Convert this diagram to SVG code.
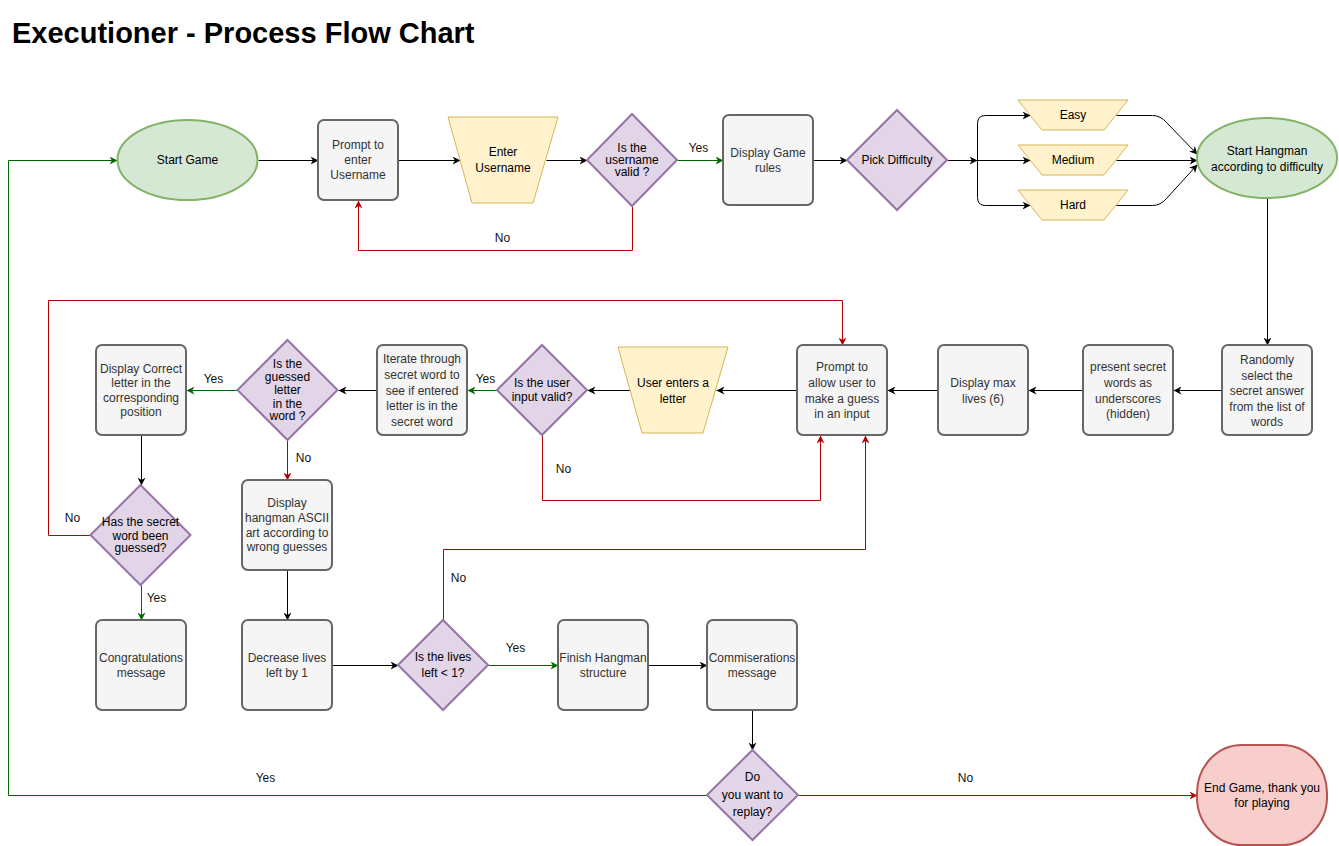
<svg xmlns="http://www.w3.org/2000/svg" width="1339" height="846" viewBox="0 0 1339 846">
<style>
.box{fill:#f5f5f5;stroke:#666666;stroke-width:2}
.dia{fill:#e1d5e7;stroke:#9673a6;stroke-width:2}
.io{fill:#fff2cc;stroke:#d6b656;stroke-width:1}
.term{fill:#d5e8d4;stroke:#82b366;stroke-width:2}
.end{fill:#f8cecc;stroke:#b85450;stroke-width:2}
text{font-family:"Liberation Sans",Arial,sans-serif;font-size:12px;text-anchor:middle;fill:#000}
.g3 text{fill:#333333}
.lbl{fill:#111}
.e{fill:none;stroke:#000;stroke-width:1}
.e.k{marker-end:url(#ak)}
.e.g{stroke:#006600;marker-end:url(#ag)}
.e.r{stroke:#b20000;marker-end:url(#ar)}
</style>
<defs>
<marker id="ak" viewBox="0 0 10 10" markerUnits="userSpaceOnUse" markerWidth="8" markerHeight="8" refX="10" refY="5" orient="auto"><path d="M0,0 L10,5 L0,10 L3,5 Z" fill="#000"/></marker>
<marker id="ag" viewBox="0 0 10 10" markerUnits="userSpaceOnUse" markerWidth="8" markerHeight="8" refX="10" refY="5" orient="auto"><path d="M0,0 L10,5 L0,10 L3,5 Z" fill="#006600"/></marker>
<marker id="ar" viewBox="0 0 10 10" markerUnits="userSpaceOnUse" markerWidth="8" markerHeight="8" refX="10" refY="5" orient="auto"><path d="M0,0 L10,5 L0,10 L3,5 Z" fill="#b20000"/></marker>
</defs>
<rect width="1339" height="846" fill="#ffffff"/>
<text x="12" y="43" style="font-size:29px;font-weight:bold;text-anchor:start">Executioner - Process Flow Chart</text>

<g id="connectors" transform="translate(0.5,0.5)">
<path class="e k" d="M258,160 L318,160"/>
<path class="e k" d="M398,160 L460,160"/>
<path class="e k" d="M546,160 L587,160"/>
<path class="e g" d="M677,160 L723,160"/>
<path class="e k" d="M813,160 L847,160"/>
<path class="e k" d="M947,160 L977,160"/>
<path class="e k" d="M977,160 L977,123 Q977,115 985,115 L1030,115"/>
<path class="e k" d="M977,160 L1030,160"/>
<path class="e k" d="M977,160 L977,197 Q977,205 985,205 L1030,205"/>
<path class="e k" d="M1116,115 L1152,115 Q1160,115 1166,122 L1197,154"/>
<path class="e k" d="M1116,160 L1197,160"/>
<path class="e k" d="M1116,205 L1152,205 Q1160,205 1166,198 L1197,164"/>
<path class="e k" d="M1267,198 L1267,345"/>
<path class="e k" d="M1222,390 L1173,390"/>
<path class="e k" d="M1083,390 L1028,390"/>
<path class="e k" d="M938,390 L887,390"/>
<path class="e k" d="M797,390 L716,390"/>
<path class="e k" d="M630,390 L587,390"/>
<path class="e g" d="M497,390 L467,390"/>
<path class="e k" d="M377,390 L338,390"/>
<path class="e g" d="M237,390 L186,390"/>
<path class="e r" d="M287,440 L287,480"/>
<path class="e k" d="M141,435 L141,485"/>
<path class="e g" d="M141,585 L141,620"/>
<path class="e k" d="M287,570 L287,620"/>
<path class="e k" d="M332,665 L398,665"/>
<path class="e g" d="M488,665 L558,665"/>
<path class="e k" d="M648,665 L707,665"/>
<path class="e k" d="M752,710 L752,750"/>
<path class="e r" d="M798,795 L1197,795"/>
<path class="e g" d="M707,795 L8,795 L8,160 L117,160"/>
<path class="e r" d="M632,206 L632,250 L358,250 L358,200"/>
<path class="e r" d="M542,435 L542,500 L820,500 L820,435"/>
<path class="e r" d="M90,535 L48,535 L48,300 L842,300 L842,345"/>
<path class="e r" d="M443,620 L443,549 L865,549 L865,435"/>
<text class="lbl" x="698" y="151">Yes</text>
<text class="lbl" x="502" y="241">No</text>
<text class="lbl" x="485" y="382">Yes</text>
<text class="lbl" x="213" y="382">Yes</text>
<text class="lbl" x="563" y="472">No</text>
<text class="lbl" x="303" y="461">No</text>
<text class="lbl" x="72" y="521">No</text>
<text class="lbl" x="458" y="581">No</text>
<text class="lbl" x="156" y="601">Yes</text>
<text class="lbl" x="515" y="651">Yes</text>
<text class="lbl" x="265" y="781">Yes</text>
<text class="lbl" x="965" y="781">No</text>
</g>

<g id="start-game"><ellipse class="term" cx="187.5" cy="160" rx="70" ry="40"/><text x="187.5" y="164">Start Game</text></g>
<g id="prompt-username" class="g3"><rect class="box" x="318" y="120" width="80" height="80" rx="6"/><text x="358" y="149">Prompt to</text><text x="358" y="164">enter</text><text x="358" y="179">Username</text></g>
<g id="enter-username"><polygon class="io" points="448,117 558,117 533,203 472,203"/><text x="503" y="156">Enter</text><text x="503" y="172">Username</text></g>
<g id="username-valid"><polygon class="dia" points="632,114 677,160 632,206 587,160"/><text x="632" y="152">Is the</text><text x="632" y="164">username</text><text x="632" y="176">valid ?</text></g>
<g id="display-rules" class="g3"><rect class="box" x="723" y="115" width="90" height="90" rx="6"/><text x="768" y="157">Display Game</text><text x="768" y="172">rules</text></g>
<g id="pick-difficulty"><polygon class="dia" points="897,110 947,160 897,210 847,160"/><text x="897" y="164">Pick Difficulty</text></g>
<g id="easy"><polygon class="io" points="1018,100 1128,100 1104,130 1042,130"/><text x="1073" y="119">Easy</text></g>
<g id="medium"><polygon class="io" points="1018,145 1128,145 1104,175 1042,175"/><text x="1073" y="164">Medium</text></g>
<g id="hard"><polygon class="io" points="1018,190 1128,190 1104,220 1042,220"/><text x="1073" y="209">Hard</text></g>
<g id="start-hangman"><ellipse class="term" cx="1267" cy="158" rx="70" ry="40"/><text x="1267" y="155">Start Hangman</text><text x="1267" y="171">according to difficulty</text></g>

<g id="random-select" class="g3"><rect class="box" x="1222" y="345" width="90" height="90" rx="6"/><text x="1267" y="364">Randomly</text><text x="1267" y="379.5">select the</text><text x="1267" y="395">secret answer</text><text x="1267" y="410.5">from the list of</text><text x="1267" y="426">words</text></g>
<g id="present-secret" class="g3"><rect class="box" x="1083" y="345" width="90" height="90" rx="6"/><text x="1128" y="371">present secret</text><text x="1128" y="387">words as</text><text x="1128" y="402.5">underscores</text><text x="1128" y="418">(hidden)</text></g>
<g id="max-lives" class="g3"><rect class="box" x="938" y="345" width="90" height="90" rx="6"/><text x="983" y="387">Display max</text><text x="983" y="402.5">lives (6)</text></g>
<g id="prompt-guess" class="g3"><rect class="box" x="797" y="345" width="90" height="90" rx="6"/><text x="842" y="371">Prompt to</text><text x="842" y="387">allow user to</text><text x="842" y="402.5">make a guess</text><text x="842" y="418">in an input</text></g>
<g id="user-enters"><polygon class="io" points="618,347 728,347 703,433 642,433"/><text x="673" y="387">User enters a</text><text x="673" y="402.5">letter</text></g>
<g id="input-valid"><polygon class="dia" points="542,345 587,390 542,435 497,390"/><text x="542" y="387">Is the user</text><text x="542" y="401">input valid?</text></g>
<g id="iterate" class="g3"><rect class="box" x="377" y="345" width="90" height="90" rx="6"/><text x="422" y="363">Iterate through</text><text x="422" y="379">secret word to</text><text x="422" y="394.5">see if entered</text><text x="422" y="410">letter is in the</text><text x="422" y="425.5">secret word</text></g>
<g id="letter-in-word"><polygon class="dia" points="287.5,340 337.5,390 287.5,440 237.5,390"/><text x="287.5" y="368">Is the</text><text x="287.5" y="381">guessed</text><text x="287.5" y="394">letter</text><text x="287.5" y="407.5">in the</text><text x="287.5" y="420">word ?</text></g>
<g id="display-correct" class="g3"><rect class="box" x="96" y="345" width="90" height="90" rx="6"/><text x="141" y="372.5">Display Correct</text><text x="141" y="386.5">letter in the</text><text x="141" y="401.5">corresponding</text><text x="141" y="416">position</text></g>
<g id="display-hangman" class="g3"><rect class="box" x="242" y="480" width="90" height="90" rx="6"/><text x="287" y="507">Display</text><text x="287" y="522">hangman ASCII</text><text x="287" y="536.5">art according to</text><text x="287" y="550.5">wrong guesses</text></g>
<g id="word-guessed"><polygon class="dia" points="140.5,485 190.5,535 140.5,585 90.5,535"/><text x="140.5" y="526">Has the secret</text><text x="140.5" y="539.5">word been</text><text x="140.5" y="552">guessed?</text></g>

<g id="congratulations" class="g3"><rect class="box" x="96" y="620" width="90" height="90" rx="6"/><text x="141" y="661.5">Congratulations</text><text x="141" y="676.5">message</text></g>
<g id="decrease-lives" class="g3"><rect class="box" x="242" y="620" width="90" height="90" rx="6"/><text x="287" y="661.5">Decrease lives</text><text x="287" y="676.5">left by 1</text></g>
<g id="lives-left"><polygon class="dia" points="443,620 488,665 443,710 398,665"/><text x="443" y="660.5">Is the lives</text><text x="443" y="677">left &lt; 1?</text></g>
<g id="finish-hangman" class="g3"><rect class="box" x="558" y="620" width="90" height="90" rx="6"/><text x="603" y="661.5">Finish Hangman</text><text x="603" y="676.5">structure</text></g>
<g id="commiserations" class="g3"><rect class="box" x="707" y="620" width="90" height="90" rx="6"/><text x="752" y="661.5">Commiserations</text><text x="752" y="676.5">message</text></g>
<g id="replay"><polygon class="dia" points="752.5,750 798,795 752.5,840 707,795"/><text x="752.5" y="781">Do</text><text x="752.5" y="799">you want to</text><text x="752.5" y="815.5">replay?</text></g>
<g id="end-game"><rect class="end" x="1197" y="745" width="130" height="100" rx="45" ry="48"/><text x="1262" y="791.5">End Game, thank you</text><text x="1262" y="806.5">for playing</text></g>
</svg>
